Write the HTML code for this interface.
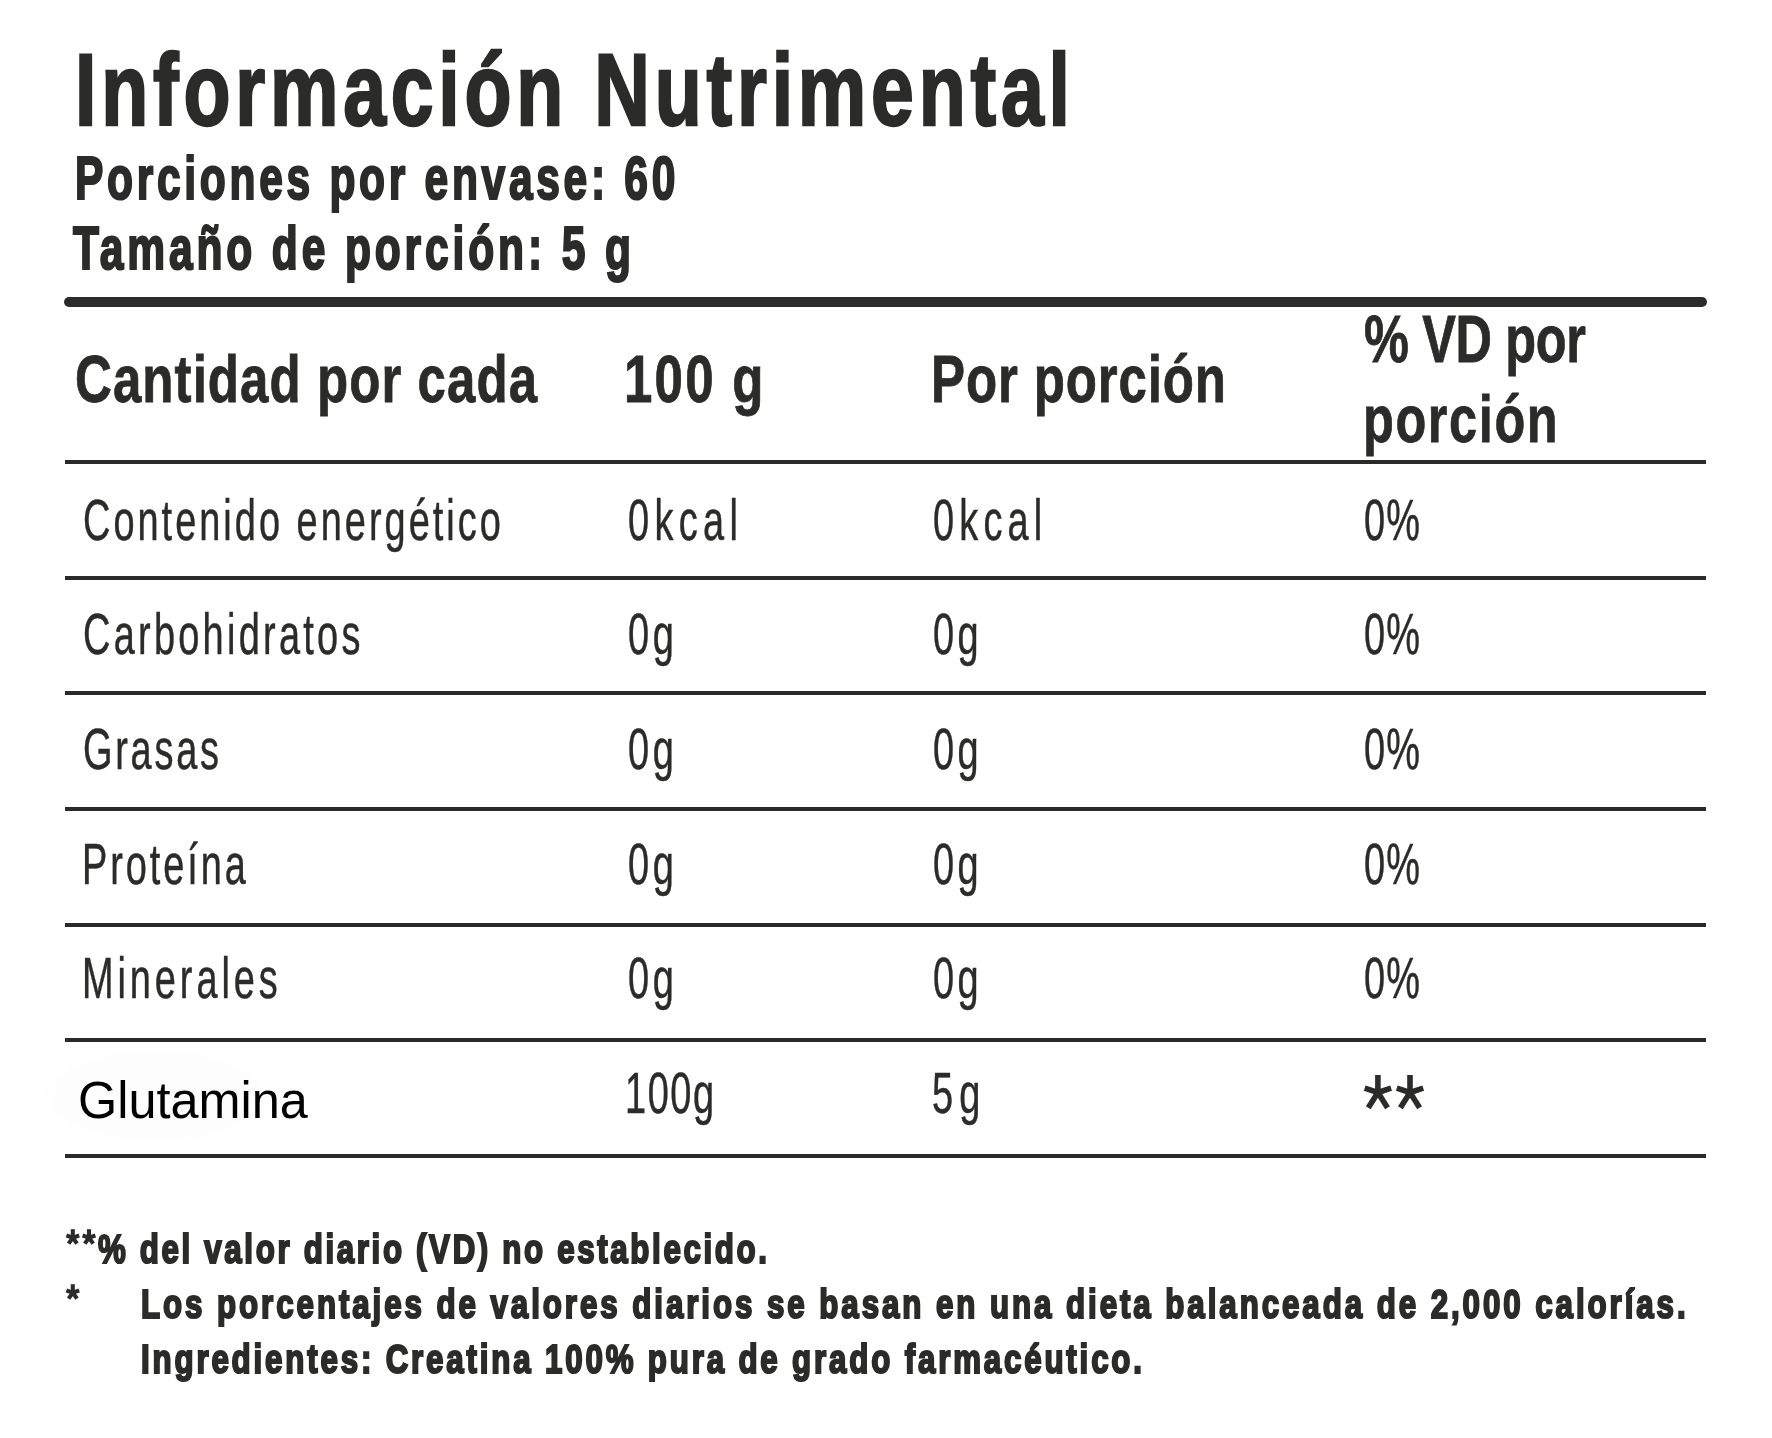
<!DOCTYPE html>
<html><head><meta charset="utf-8"><title>Informacion Nutrimental</title>
<style>
html,body{margin:0;padding:0;background:#fff;}
body{width:1772px;height:1438px;position:relative;overflow:hidden;font-family:"Liberation Sans",sans-serif;}
.t{position:absolute;white-space:nowrap;transform-origin:0 0;}
.ln{position:absolute;left:65px;width:1641px;height:4px;background:#2a2a28;}
.thick{position:absolute;left:64px;top:297px;width:1643px;height:10px;border-radius:5px;background:#2b2b29;}
</style></head><body>
<div style="position:absolute;left:49px;top:1051px;width:212px;height:90px;border-radius:50%;background:#fdfdfd;filter:blur(4px)"></div>
<div class="thick"></div>
<div class="ln" style="top:460.0px"></div>
<div class="ln" style="top:576.0px"></div>
<div class="ln" style="top:691.0px"></div>
<div class="ln" style="top:807.0px"></div>
<div class="ln" style="top:922.5px"></div>
<div class="ln" style="top:1038.0px"></div>
<div class="ln" style="top:1154.0px"></div>
<div class="t" style="left:74.50px;top:39.00px;font-size:102.618px;line-height:102.618px;letter-spacing:6.394px;transform:scaleX(0.7500);color:#2b2b29;font-weight:bold;-webkit-text-stroke:2.40px #2b2b29;">Información Nutrimental</div>
<div class="t" style="left:75.40px;top:148.00px;font-size:60.757px;line-height:60.757px;letter-spacing:5.286px;transform:scaleX(0.7000);color:#2b2b29;font-weight:bold;-webkit-text-stroke:2.20px #2b2b29;">Porciones por envase: 60</div>
<div class="t" style="left:73.00px;top:218.00px;font-size:60.757px;line-height:60.757px;letter-spacing:5.537px;transform:scaleX(0.7000);color:#2b2b29;font-weight:bold;-webkit-text-stroke:2.20px #2b2b29;">Tamaño de porción: 5 g</div>
<div class="t" style="left:75.18px;top:345.00px;font-size:67.152px;line-height:67.152px;letter-spacing:1.395px;transform:scaleX(0.7600);color:#2b2b29;font-weight:bold;-webkit-text-stroke:0.80px #2b2b29;">Cantidad por cada</div>
<div class="t" style="left:624.46px;top:345.00px;font-size:67.152px;line-height:67.152px;letter-spacing:2.914px;transform:scaleX(0.7600);color:#2b2b29;font-weight:bold;-webkit-text-stroke:0.80px #2b2b29;">100 g</div>
<div class="t" style="left:930.96px;top:345.00px;font-size:67.152px;line-height:67.152px;letter-spacing:1.126px;transform:scaleX(0.7600);color:#2b2b29;font-weight:bold;-webkit-text-stroke:0.80px #2b2b29;">Por porción</div>
<div class="t" style="left:1364.24px;top:306.00px;font-size:66.426px;line-height:66.426px;letter-spacing:-0.459px;transform:scaleX(0.7600);color:#2b2b29;font-weight:bold;-webkit-text-stroke:0.80px #2b2b29;">% VD por</div>
<div class="t" style="left:1362.96px;top:386.00px;font-size:66.426px;line-height:66.426px;letter-spacing:2.114px;transform:scaleX(0.7600);color:#2b2b29;font-weight:bold;-webkit-text-stroke:0.80px #2b2b29;">porción</div>
<div class="t" style="left:82.72px;top:492.00px;font-size:57.414px;line-height:57.414px;letter-spacing:4.596px;transform:scaleX(0.6600);color:#2b2b29;-webkit-text-stroke:0.50px #2b2b29;">Contenido energético</div>
<div class="t" style="left:627.68px;top:492.00px;font-size:57.414px;line-height:57.414px;letter-spacing:8.152px;transform:scaleX(0.6600);color:#2b2b29;-webkit-text-stroke:0.50px #2b2b29;">0kcal</div>
<div class="t" style="left:933.18px;top:492.00px;font-size:57.414px;line-height:57.414px;letter-spacing:7.886px;transform:scaleX(0.6600);color:#2b2b29;-webkit-text-stroke:0.50px #2b2b29;">0kcal</div>
<div class="t" style="left:1364.48px;top:492.00px;font-size:57.414px;line-height:57.414px;letter-spacing:1.606px;transform:scaleX(0.6600);color:#2b2b29;-webkit-text-stroke:0.50px #2b2b29;">0%</div>
<div class="t" style="left:82.72px;top:606.00px;font-size:57.414px;line-height:57.414px;letter-spacing:4.967px;transform:scaleX(0.6600);color:#2b2b29;-webkit-text-stroke:0.50px #2b2b29;">Carbohidratos</div>
<div class="t" style="left:628.18px;top:606.00px;font-size:57.414px;line-height:57.414px;letter-spacing:5.394px;transform:scaleX(0.6600);color:#2b2b29;-webkit-text-stroke:0.50px #2b2b29;">0g</div>
<div class="t" style="left:933.18px;top:606.00px;font-size:57.414px;line-height:57.414px;letter-spacing:5.091px;transform:scaleX(0.6600);color:#2b2b29;-webkit-text-stroke:0.50px #2b2b29;">0g</div>
<div class="t" style="left:1364.48px;top:606.00px;font-size:57.414px;line-height:57.414px;letter-spacing:1.606px;transform:scaleX(0.6600);color:#2b2b29;-webkit-text-stroke:0.50px #2b2b29;">0%</div>
<div class="t" style="left:82.72px;top:721.00px;font-size:57.414px;line-height:57.414px;letter-spacing:4.182px;transform:scaleX(0.6600);color:#2b2b29;-webkit-text-stroke:0.50px #2b2b29;">Grasas</div>
<div class="t" style="left:628.18px;top:721.00px;font-size:57.414px;line-height:57.414px;letter-spacing:5.394px;transform:scaleX(0.6600);color:#2b2b29;-webkit-text-stroke:0.50px #2b2b29;">0g</div>
<div class="t" style="left:933.18px;top:721.00px;font-size:57.414px;line-height:57.414px;letter-spacing:5.091px;transform:scaleX(0.6600);color:#2b2b29;-webkit-text-stroke:0.50px #2b2b29;">0g</div>
<div class="t" style="left:1364.48px;top:721.00px;font-size:57.414px;line-height:57.414px;letter-spacing:1.606px;transform:scaleX(0.6600);color:#2b2b29;-webkit-text-stroke:0.50px #2b2b29;">0%</div>
<div class="t" style="left:82.06px;top:836.00px;font-size:57.414px;line-height:57.414px;letter-spacing:4.442px;transform:scaleX(0.6600);color:#2b2b29;-webkit-text-stroke:0.50px #2b2b29;">Proteína</div>
<div class="t" style="left:628.18px;top:836.00px;font-size:57.414px;line-height:57.414px;letter-spacing:5.394px;transform:scaleX(0.6600);color:#2b2b29;-webkit-text-stroke:0.50px #2b2b29;">0g</div>
<div class="t" style="left:933.18px;top:836.00px;font-size:57.414px;line-height:57.414px;letter-spacing:5.091px;transform:scaleX(0.6600);color:#2b2b29;-webkit-text-stroke:0.50px #2b2b29;">0g</div>
<div class="t" style="left:1364.48px;top:836.00px;font-size:57.414px;line-height:57.414px;letter-spacing:1.606px;transform:scaleX(0.6600);color:#2b2b29;-webkit-text-stroke:0.50px #2b2b29;">0%</div>
<div class="t" style="left:82.06px;top:950.00px;font-size:57.414px;line-height:57.414px;letter-spacing:5.951px;transform:scaleX(0.6600);color:#2b2b29;-webkit-text-stroke:0.50px #2b2b29;">Minerales</div>
<div class="t" style="left:628.18px;top:950.00px;font-size:57.414px;line-height:57.414px;letter-spacing:5.394px;transform:scaleX(0.6600);color:#2b2b29;-webkit-text-stroke:0.50px #2b2b29;">0g</div>
<div class="t" style="left:933.18px;top:950.00px;font-size:57.414px;line-height:57.414px;letter-spacing:5.091px;transform:scaleX(0.6600);color:#2b2b29;-webkit-text-stroke:0.50px #2b2b29;">0g</div>
<div class="t" style="left:1364.48px;top:950.00px;font-size:57.414px;line-height:57.414px;letter-spacing:1.606px;transform:scaleX(0.6600);color:#2b2b29;-webkit-text-stroke:0.50px #2b2b29;">0%</div>
<div class="t" style="left:77.61px;top:1073.50px;font-size:52.326px;line-height:52.326px;letter-spacing:0.000px;transform:scaleX(0.9638);color:#000;">Glutamina</div>
<div class="t" style="left:625.06px;top:1065.00px;font-size:57.414px;line-height:57.414px;letter-spacing:2.374px;transform:scaleX(0.6600);color:#2b2b29;-webkit-text-stroke:0.50px #2b2b29;">100g</div>
<div class="t" style="left:932.18px;top:1065.00px;font-size:57.414px;line-height:57.414px;letter-spacing:9.182px;transform:scaleX(0.6600);color:#2b2b29;-webkit-text-stroke:0.50px #2b2b29;">5g</div>
<div class="t" style="left:98.40px;top:1228.70px;font-size:41.134px;line-height:41.134px;letter-spacing:3.502px;transform:scaleX(0.7600);color:#2b2b29;font-weight:bold;-webkit-text-stroke:2.20px #2b2b29;">% del valor diario (VD) no establecido.</div>
<div class="t" style="left:141.48px;top:1283.70px;font-size:41.134px;line-height:41.134px;letter-spacing:3.877px;transform:scaleX(0.7600);color:#2b2b29;font-weight:bold;-webkit-text-stroke:2.20px #2b2b29;">Los porcentajes de valores diarios se basan en una dieta balanceada de 2,000 calorías.</div>
<div class="t" style="left:140.98px;top:1338.70px;font-size:41.134px;line-height:41.134px;letter-spacing:3.737px;transform:scaleX(0.7600);color:#2b2b29;font-weight:bold;-webkit-text-stroke:2.20px #2b2b29;">Ingredientes: Creatina 100% pura de grado farmacéutico.</div>
<svg style="position:absolute;left:0;top:0" width="1772" height="1438" viewBox="0 0 1772 1438"><g stroke="#2b2b29" stroke-width="5.6" stroke-linecap="butt" fill="none"><line x1="1377.9" y1="1092.5" x2="1377.9" y2="1075.0"/><line x1="1377.9" y1="1092.5" x2="1364.7" y2="1088.2"/><line x1="1377.9" y1="1092.5" x2="1391.1" y2="1088.2"/><line x1="1377.9" y1="1092.5" x2="1368.3" y2="1107.8"/><line x1="1377.9" y1="1092.5" x2="1387.5" y2="1107.8"/><line x1="1410.0" y1="1092.5" x2="1410.0" y2="1075.0"/><line x1="1410.0" y1="1092.5" x2="1396.8" y2="1088.2"/><line x1="1410.0" y1="1092.5" x2="1423.2" y2="1088.2"/><line x1="1410.0" y1="1092.5" x2="1400.4" y2="1107.8"/><line x1="1410.0" y1="1092.5" x2="1419.6" y2="1107.8"/></g><g stroke="#2b2b29" stroke-width="4.1" stroke-linecap="butt" fill="none"><line x1="72.8" y1="1237.6" x2="72.8" y2="1229.2"/><line x1="72.8" y1="1237.6" x2="66.4" y2="1235.5"/><line x1="72.8" y1="1237.6" x2="79.2" y2="1235.5"/><line x1="72.8" y1="1237.6" x2="68.6" y2="1243.7"/><line x1="72.8" y1="1237.6" x2="77.0" y2="1243.7"/><line x1="89.0" y1="1237.6" x2="89.0" y2="1229.2"/><line x1="89.0" y1="1237.6" x2="82.6" y2="1235.5"/><line x1="89.0" y1="1237.6" x2="95.4" y2="1235.5"/><line x1="89.0" y1="1237.6" x2="84.8" y2="1243.7"/><line x1="89.0" y1="1237.6" x2="93.2" y2="1243.7"/><line x1="72.8" y1="1292.6" x2="72.8" y2="1284.2"/><line x1="72.8" y1="1292.6" x2="66.4" y2="1290.5"/><line x1="72.8" y1="1292.6" x2="79.2" y2="1290.5"/><line x1="72.8" y1="1292.6" x2="68.6" y2="1298.7"/><line x1="72.8" y1="1292.6" x2="77.0" y2="1298.7"/></g></svg>
</body></html>
